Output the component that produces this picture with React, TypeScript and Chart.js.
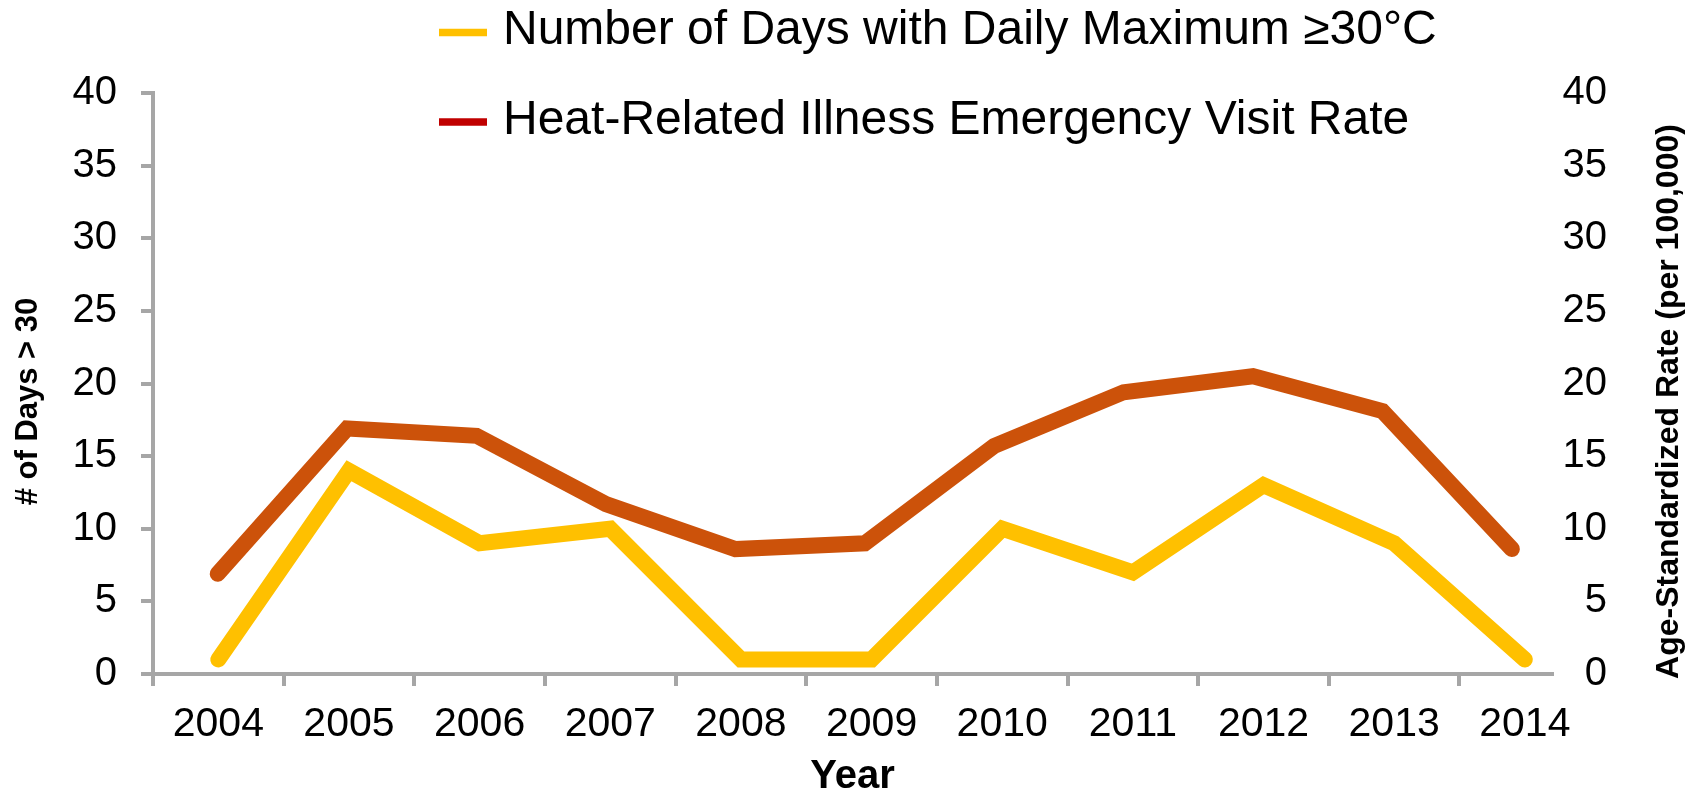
import React, { useEffect, useRef } from "react";
import { Chart, registerables } from "chart.js";

Chart.register(...registerables);

const years = ["2004", "2005", "2006", "2007", "2008", "2009", "2010", "2011", "2012", "2013", "2014"];
const daysAbove30 = [1, 14, 9, 10, 1, 1, 10, 7, 13, 9, 1];
const visitRate = [6.9, 16.9, 16.4, 11.7, 8.6, 9.0, 15.7, 19.4, 20.5, 18.1, 8.6];
const seriesLabels = [
  "Number of Days with Daily Maximum \u226530\u00B0C",
  "Heat-Related Illness Emergency Visit Rate",
];
const lineColors = ["#FFC000", "#CC520A"];
const legendColors = ["#FFC000", "#C00000"];
const leftTitle = "# of Days > 30";
const rightTitle = "Age-Standardized Rate (per 100,000)";
const xTitle = "Year";

const FONT = "'Liberation Sans', Arial, sans-serif";
const AXIS_GRAY = "#A6A6A6";

const overlayPlugin = {
  id: "overlayLegendTitles",
  afterDraw(chart: any) {
    const ctx = chart.ctx as CanvasRenderingContext2D;
    const area = chart.chartArea;
    ctx.save();
    // legend
    const rowY = [32.5, 122];
    chart.data.datasets.forEach((ds: any, i: number) => {
      ctx.strokeStyle = ds.legendColor;
      ctx.lineWidth = 7.5;
      ctx.lineCap = "butt";
      ctx.beginPath();
      ctx.moveTo(439, rowY[i]);
      ctx.lineTo(487, rowY[i]);
      ctx.stroke();
      ctx.fillStyle = "#000";
      ctx.font = `48px ${FONT}`;
      ctx.textAlign = "left";
      ctx.textBaseline = "middle";
      ctx.fillText(ds.label, 503, rowY[i] - 1.5);
    });
    // side titles (both read bottom-to-top)
    const midY = (area.top + area.bottom) / 2 + 18;
    ctx.textAlign = "center";
    ctx.textBaseline = "middle";
    ctx.fillStyle = "#000";
    [
      { text: leftTitle, x: 28, size: 31 },
      { text: rightTitle, x: 1669, size: 32 },
    ].forEach((t) => {
      ctx.save();
      ctx.font = `bold ${t.size}px ${FONT}`;
      ctx.translate(t.x, midY);
      ctx.rotate(-Math.PI / 2);
      ctx.fillText(t.text, 0, 0);
      ctx.restore();
    });
    ctx.restore();
  },
};

export default function App() {
  const canvasRef = useRef<HTMLCanvasElement | null>(null);

  useEffect(() => {
    const canvas = canvasRef.current;
    if (!canvas) return;
    const chart = new Chart(canvas, {
      type: "line",
      data: {
        datasets: [
          {
            label: seriesLabels[0],
            data: daysAbove30.map((v, i) => ({ x: i, y: v })),
            borderColor: lineColors[0],
            backgroundColor: lineColors[0],
            borderWidth: 16,
            borderCapStyle: "round",
            borderJoinStyle: "miter",
            pointRadius: 0,
            pointHoverRadius: 0,
            tension: 0,
            fill: false,
            xAxisID: "x",
            yAxisID: "y",
            legendColor: legendColors[0],
          } as any,
          {
            label: seriesLabels[1],
            data: visitRate.map((v, i) => ({ x: i, y: v })),
            borderColor: lineColors[1],
            backgroundColor: lineColors[1],
            borderWidth: 16,
            borderCapStyle: "round",
            borderJoinStyle: "miter",
            pointRadius: 0,
            pointHoverRadius: 0,
            tension: 0,
            fill: false,
            xAxisID: "x2",
            yAxisID: "y1",
            legendColor: legendColors[1],
          } as any,
        ],
      },
      options: {
        responsive: false,
        animation: false,
        devicePixelRatio: 1,
        layout: { padding: { top: 93, left: 0, right: 88, bottom: 0 } },
        plugins: {
          legend: { display: false },
          tooltip: { enabled: false },
          title: { display: false },
        },
        events: [],
        scales: {
          x: {
            type: "linear",
            position: "bottom",
            min: -0.5,
            max: 10.208,
            afterBuildTicks: (scale: any) => {
              scale.ticks = years.map((_, i) => ({ value: i }));
            },
            afterFit: (scale: any) => {
              scale.height = 123;
            },
            ticks: {
              autoSkip: false,
              maxRotation: 0,
              minRotation: 0,
              padding: 14,
              color: "#000",
              font: { family: FONT, size: 41 },
              callback: (_v: any, i: number) => years[i],
            },
            grid: {
              offset: true,
              drawOnChartArea: false,
              drawTicks: true,
              tickLength: 12,
              color: AXIS_GRAY,
              lineWidth: 4,
            },
            border: { display: true, color: AXIS_GRAY, width: 4 },
            title: {
              display: true,
              text: xTitle,
              color: "#000",
              font: { family: FONT, size: 40, weight: "bold", lineHeight: 1 },
              padding: 0,
            },
          },
          x2: {
            type: "linear",
            display: false,
            min: -0.5,
            max: 10.31,
          },
          y: {
            type: "linear",
            position: "left",
            min: 0,
            max: 40,
            afterFit: (scale: any) => {
              scale.width = 153;
            },
            ticks: {
              stepSize: 5,
              padding: 24,
              color: "#000",
              font: { family: FONT, size: 40 },
            },
            grid: {
              drawOnChartArea: false,
              drawTicks: true,
              tickLength: 12,
              color: AXIS_GRAY,
              lineWidth: 4,
            },
            border: { display: true, color: AXIS_GRAY, width: 4 },
          },
          y1: {
            type: "linear",
            position: "right",
            min: 0,
            max: 40,
            afterFit: (scale: any) => {
              scale.width = 55;
            },
            ticks: {
              stepSize: 5,
              padding: 8,
              crossAlign: "far",
              color: "#000",
              font: { family: FONT, size: 40 },
            },
            grid: { display: false, drawTicks: false },
            border: { display: false },
          },
        },
      } as any,
      plugins: [overlayPlugin],
    });
    return () => chart.destroy();
  }, []);

  return (
    <div style={{ position: "absolute", left: 0, top: 0, width: 1695, height: 797, background: "#fff" }}>
      <canvas ref={canvasRef} width={1695} height={797} style={{ display: "block" }} />
    </div>
  );
}
